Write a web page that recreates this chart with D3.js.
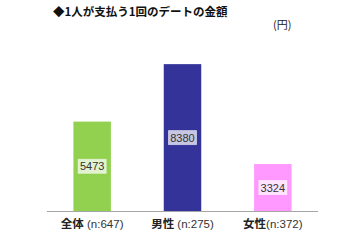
<!DOCTYPE html>
<html>
<head>
<meta charset="utf-8">
<script src="https://cdn.jsdelivr.net/npm/d3@7"></script>
<style>
  body { margin: 0; background: #fff; overflow: hidden; }
  svg { display: block; }
</style>
</head>
<body>
<script>
const categories = ["全体", "男性", "女性"];
const sampleLabels = [" (n:647)", " (n:275)", "(n:372)"];
const values = [5473, 8380, 3324];
const barColors = ["#92d050", "#333399", "#ff99ff"];

const width = 360, height = 240;
const jpFont = '"Noto Sans CJK JP", "Liberation Sans", sans-serif';
const numFont = '"Liberation Sans", Arial, sans-serif';

const svg = d3.select("body").append("svg")
    .attr("width", width)
    .attr("height", height);

// title and unit
svg.append("text")
    .attr("x", 53)
    .attr("y", 16)
    .style("font-family", jpFont)
    .style("font-size", "11.5px")
    .style("font-weight", "bold")
    .attr("fill", "#111")
    .text("◆1人が支払う1回のデートの金額");

svg.append("text")
    .attr("x", 273)
    .attr("y", 29)
    .style("font-family", jpFont)
    .style("font-size", "11px")
    .attr("fill", "#222")
    .text("(円)");

const xScale = d3.scaleBand()
    .domain(categories)
    .range([47, 318])
    .padding(0);

const yScale = d3.scaleLinear()
    .domain([950, 9500])
    .range([211, 42]);

const barW = xScale.bandwidth() * 0.415;

const bars = svg.selectAll("g.bar")
    .data(categories)
    .enter().append("g")
    .attr("class", "bar");

bars.append("rect")
    .attr("x", (d) => xScale(d) + (xScale.bandwidth() - barW) / 2)
    .attr("y", (d, i) => yScale(values[i]))
    .attr("width", barW)
    .attr("height", (d, i) => yScale.range()[0] - yScale(values[i]))
    .attr("fill", (d, i) => barColors[i]);

// value labels in the middle of each bar
bars.append("rect")
    .attr("x", (d) => xScale(d) + xScale.bandwidth() / 2 - 14)
    .attr("y", (d, i) => (yScale(values[i]) + yScale.range()[0]) / 2 - 7)
    .attr("width", 28)
    .attr("height", 14)
    .attr("fill", "#fff")
    .attr("fill-opacity", 0.72)
    .attr("stroke", "#fff")
    .attr("stroke-opacity", 0.5);

bars.append("text")
    .attr("x", (d) => xScale(d) + xScale.bandwidth() / 2)
    .attr("y", (d, i) => (yScale(values[i]) + yScale.range()[0]) / 2 + 4)
    .attr("text-anchor", "middle")
    .style("font-family", numFont)
    .style("font-size", "11px")
    .attr("fill", "#333")
    .text((d, i) => values[i]);

// baseline
svg.append("line")
    .attr("x1", xScale.range()[0])
    .attr("x2", xScale.range()[1])
    .attr("y1", yScale.range()[0] + 0.5)
    .attr("y2", yScale.range()[0] + 0.5)
    .attr("stroke", "#a6a6a6")
    .attr("stroke-width", 1);

// category labels
const lab = svg.selectAll("text.cat")
    .data(categories)
    .enter().append("text")
    .attr("class", "cat")
    .attr("x", (d) => xScale(d) + xScale.bandwidth() / 2)
    .attr("y", 228)
    .attr("text-anchor", "middle")
    .style("font-size", "11.5px");

lab.append("tspan")
    .style("font-family", jpFont)
    .style("font-weight", "bold")
    .attr("fill", "#222")
    .text((d) => d);

lab.append("tspan")
    .style("font-family", numFont)
    .attr("fill", "#333")
    .text((d, i) => sampleLabels[i]);
</script>
</body>
</html>
